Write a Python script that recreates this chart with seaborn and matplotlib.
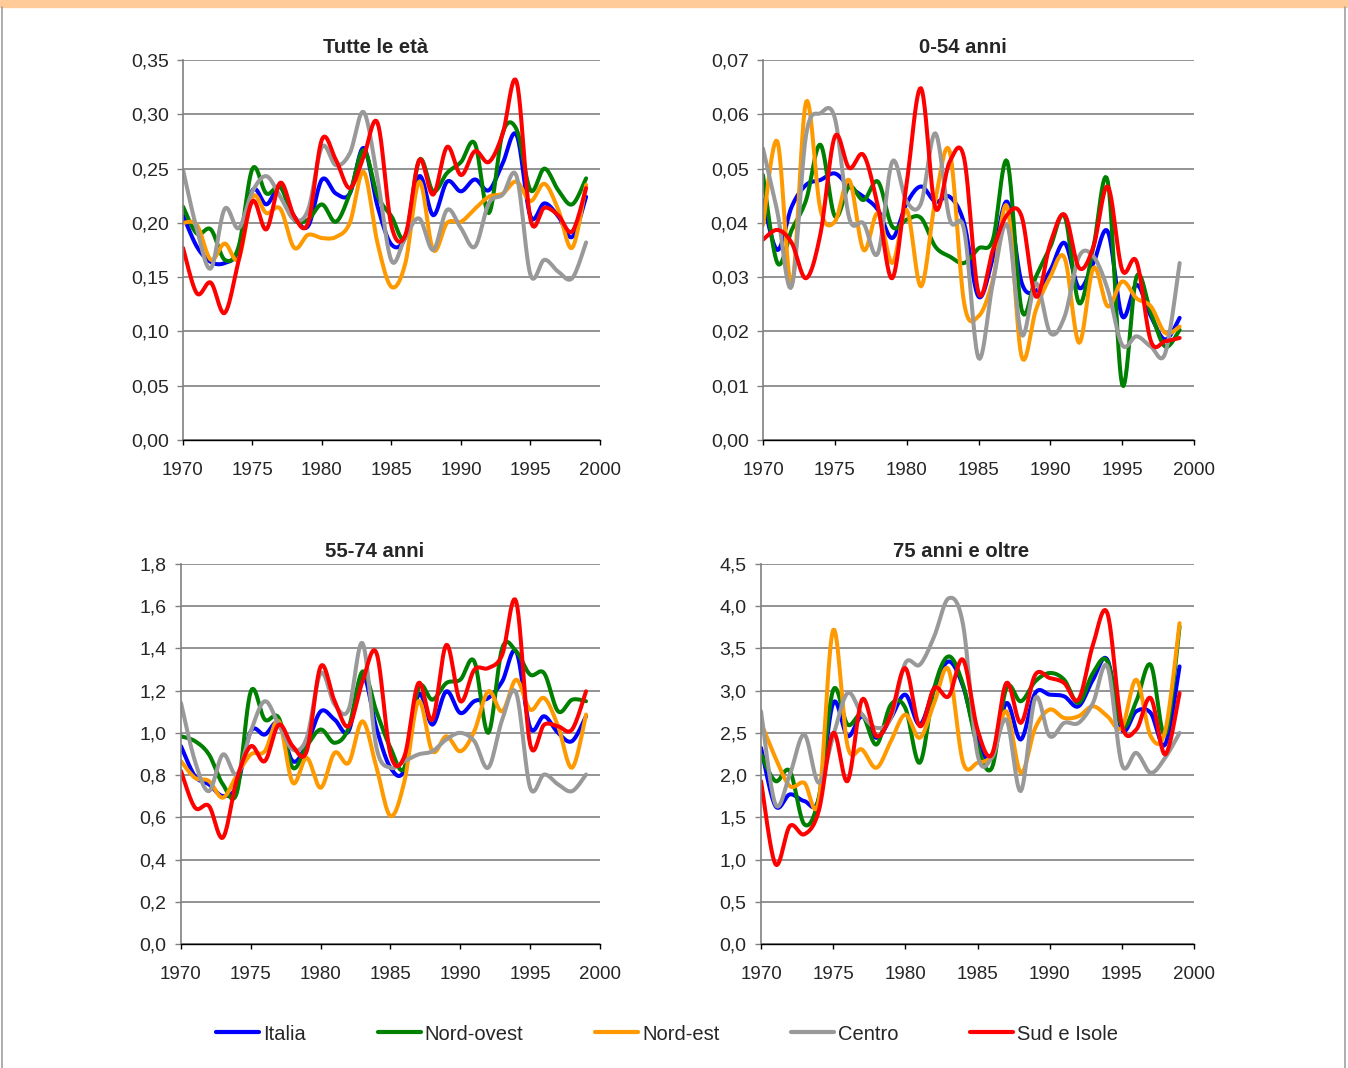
import numpy as np
import pandas as pd
import matplotlib
matplotlib.use('Agg')
import matplotlib.pyplot as plt
from matplotlib.ticker import FuncFormatter, MultipleLocator
from matplotlib.lines import Line2D
import seaborn as sns

years = list(range(1970, 2000))
regions = ['Italia', 'Nord-ovest', 'Nord-est', 'Centro', 'Sud e Isole']
colors = ['#0000FF', '#008000', '#FF9900', '#999999', '#FF0000']

# Tutte le età
tutte_italia = [0.207, 0.178, 0.164, 0.163, 0.175, 0.230, 0.217, 0.233, 0.206, 0.197,
                0.240, 0.227, 0.227, 0.269, 0.215, 0.180, 0.187, 0.243, 0.207, 0.238,
                0.229, 0.240, 0.230, 0.255, 0.281, 0.206, 0.218, 0.206, 0.187, 0.224]
tutte_nordovest = [0.215, 0.190, 0.194, 0.166, 0.178, 0.250, 0.227, 0.233, 0.203, 0.203,
                   0.217, 0.201, 0.227, 0.267, 0.225, 0.206, 0.187, 0.258, 0.229, 0.246,
                   0.256, 0.273, 0.209, 0.283, 0.286, 0.230, 0.250, 0.230, 0.217, 0.241]
tutte_nordest = [0.200, 0.198, 0.166, 0.181, 0.167, 0.224, 0.209, 0.213, 0.177, 0.189,
                 0.186, 0.187, 0.200, 0.247, 0.181, 0.141, 0.163, 0.238, 0.175, 0.200,
                 0.201, 0.213, 0.224, 0.227, 0.238, 0.220, 0.236, 0.212, 0.177, 0.235]
tutte_centro = [0.249, 0.194, 0.158, 0.213, 0.195, 0.229, 0.243, 0.224, 0.203, 0.212,
                0.270, 0.253, 0.264, 0.302, 0.240, 0.165, 0.187, 0.204, 0.175, 0.212,
                0.195, 0.178, 0.218, 0.226, 0.243, 0.152, 0.166, 0.155, 0.149, 0.182]
tutte_sud = [0.177, 0.135, 0.145, 0.117, 0.165, 0.220, 0.194, 0.237, 0.206, 0.200,
             0.277, 0.258, 0.232, 0.261, 0.292, 0.197, 0.189, 0.258, 0.226, 0.270,
             0.244, 0.266, 0.256, 0.282, 0.330, 0.203, 0.214, 0.207, 0.192, 0.232]

# 0-54 anni
g054_italia = [0.0442, 0.0350, 0.0430, 0.0470, 0.0479, 0.0491, 0.0467, 0.0448, 0.0424, 0.0372,
               0.0436, 0.0467, 0.0439, 0.0448, 0.0399, 0.0264, 0.0335, 0.0439, 0.0290, 0.0275,
               0.0313, 0.0363, 0.0280, 0.0326, 0.0384, 0.0228, 0.0286, 0.0228, 0.0185, 0.0225]
g054_nordovest = [0.0488, 0.0326, 0.0387, 0.0442, 0.0544, 0.0412, 0.0467, 0.0442, 0.0476, 0.0393,
                  0.0406, 0.0409, 0.0356, 0.0338, 0.0326, 0.0353, 0.0369, 0.0513, 0.0240, 0.0301,
                  0.0356, 0.0412, 0.0252, 0.0356, 0.0476, 0.0102, 0.0301, 0.0234, 0.0172, 0.0203]
g054_nordest = [0.0396, 0.0550, 0.0286, 0.0623, 0.0424, 0.0402, 0.0479, 0.0350, 0.0418, 0.0326,
                0.0424, 0.0283, 0.0442, 0.0531, 0.0252, 0.0228, 0.0295, 0.0430, 0.0154, 0.0240,
                0.0301, 0.0335, 0.0179, 0.0317, 0.0246, 0.0292, 0.0261, 0.0246, 0.0197, 0.0209]
g054_centro = [0.0537, 0.0420, 0.0283, 0.0562, 0.0602, 0.0593, 0.0409, 0.0399, 0.0344, 0.0513,
               0.0439, 0.0436, 0.0565, 0.0406, 0.0387, 0.0151, 0.0289, 0.0396, 0.0194, 0.0289,
               0.0197, 0.0228, 0.0338, 0.0338, 0.0277, 0.0175, 0.0191, 0.0172, 0.0160, 0.0326]
g054_sud = [0.0369, 0.0387, 0.0363, 0.0298, 0.0380, 0.0559, 0.0501, 0.0525, 0.0430, 0.0298,
            0.0473, 0.0648, 0.0427, 0.0513, 0.0519, 0.0271, 0.0350, 0.0415, 0.0412, 0.0264,
            0.0363, 0.0415, 0.0317, 0.0356, 0.0467, 0.0313, 0.0329, 0.0182, 0.0182, 0.0188]

# 55-74 anni
g5574_italia = [0.937, 0.795, 0.756, 0.701, 0.750, 1.008, 0.992, 1.047, 0.866, 0.945,
                1.102, 1.063, 1.008, 1.276, 1.020, 0.835, 0.827, 1.181, 1.039, 1.197,
                1.094, 1.150, 1.165, 1.244, 1.386, 1.024, 1.079, 1.000, 0.961, 1.079]
g5574_nordovest = [0.984, 0.961, 0.898, 0.756, 0.717, 1.197, 1.063, 1.071, 0.835, 0.937,
                   1.016, 0.953, 1.024, 1.291, 1.100, 0.929, 0.835, 1.213, 1.157, 1.236,
                   1.252, 1.339, 1.000, 1.402, 1.386, 1.276, 1.283, 1.102, 1.157, 1.150]
g5574_nordest = [0.866, 0.787, 0.772, 0.693, 0.800, 0.898, 0.913, 1.055, 0.764, 0.882,
                 0.740, 0.906, 0.858, 1.055, 0.835, 0.606, 0.772, 1.150, 0.913, 0.984,
                 0.913, 1.008, 1.197, 1.102, 1.252, 1.110, 1.165, 1.031, 0.835, 1.087]
g5574_centro = [1.142, 0.866, 0.724, 0.898, 0.803, 1.008, 1.150, 1.039, 0.921, 0.976,
                1.283, 1.134, 1.110, 1.425, 0.929, 0.835, 0.866, 0.898, 0.913, 0.969,
                1.000, 0.961, 0.835, 1.063, 1.189, 0.740, 0.803, 0.756, 0.724, 0.803]
g5574_sud = [0.819, 0.646, 0.654, 0.504, 0.780, 0.937, 0.866, 1.039, 0.937, 0.913,
             1.315, 1.150, 1.031, 1.244, 1.378, 0.898, 0.890, 1.236, 1.063, 1.417,
             1.150, 1.299, 1.307, 1.370, 1.622, 0.945, 1.039, 1.031, 1.016, 1.197]

# 75 anni e oltre
g75_italia = [2.323, 1.634, 1.772, 1.693, 1.713, 2.854, 2.461, 2.697, 2.441, 2.677,
              2.953, 2.598, 3.031, 3.346, 3.051, 2.402, 2.205, 2.854, 2.421, 2.972,
              2.953, 2.933, 2.815, 3.130, 3.366, 2.539, 2.756, 2.736, 2.362, 3.287]
g75_nordovest = [2.244, 1.929, 2.047, 1.417, 1.732, 3.008, 2.598, 2.717, 2.362, 2.835,
                 2.795, 2.146, 3.031, 3.406, 3.071, 2.342, 2.087, 3.031, 2.874, 3.110,
                 3.209, 3.130, 2.854, 3.209, 3.346, 2.579, 2.874, 3.307, 2.480, 3.760]
g75_nordest = [2.618, 2.205, 1.870, 1.909, 1.693, 3.720, 2.342, 2.303, 2.087, 2.402,
               2.717, 2.441, 2.854, 3.248, 2.150, 2.146, 2.244, 2.756, 2.028, 2.559,
               2.776, 2.677, 2.697, 2.815, 2.697, 2.559, 3.130, 2.461, 2.520, 3.799]
g75_centro = [2.756, 1.654, 2.008, 2.480, 1.909, 2.461, 2.972, 2.717, 2.559, 2.677,
              3.327, 3.307, 3.642, 4.094, 3.780, 2.244, 2.205, 2.657, 1.811, 2.913,
              2.461, 2.618, 2.618, 2.854, 3.287, 2.126, 2.264, 2.028, 2.205, 2.500]
g75_sud = [1.929, 0.945, 1.398, 1.299, 1.575, 2.500, 1.929, 2.894, 2.461, 2.717,
           3.268, 2.579, 3.031, 2.933, 3.366, 2.539, 2.244, 3.091, 2.618, 3.189,
           3.150, 3.091, 2.894, 3.543, 3.917, 2.598, 2.539, 2.913, 2.244, 2.972]

titles = ['Tutte le età', '0-54 anni', '55-74 anni', '75 anni e oltre']
panel_series = [
    [tutte_italia, tutte_nordovest, tutte_nordest, tutte_centro, tutte_sud],
    [g054_italia, g054_nordovest, g054_nordest, g054_centro, g054_sud],
    [g5574_italia, g5574_nordovest, g5574_nordest, g5574_centro, g5574_sud],
    [g75_italia, g75_nordovest, g75_nordest, g75_centro, g75_sud],
]
y_max = [0.35, 0.07, 1.8, 4.5]
y_step = [0.05, 0.01, 0.2, 0.5]
y_dec = [2, 2, 1, 1]

# axes rectangles in pixels: left, top, right, bottom
W, H = 1348, 1068
boxes = [(183, 60, 600, 440), (763, 60, 1194, 440),
         (181, 564, 600, 944), (761, 564, 1194, 944)]


def smooth(x, y, n=12):
    # Excel-like smoothed line (Catmull-Rom through every data point)
    x = np.asarray(x, float)
    y = np.asarray(y, float)
    px = np.concatenate([[x[0]], x, [x[-1]]])
    py = np.concatenate([[y[0]], y, [y[-1]]])
    t = np.linspace(0, 1, n, endpoint=False)
    xs, ys = [], []
    for i in range(1, len(px) - 2):
        for p, out in ((px, xs), (py, ys)):
            p0, p1, p2, p3 = p[i - 1], p[i], p[i + 1], p[i + 2]
            out.append(0.5 * (2 * p1 + (-p0 + p2) * t
                              + (2 * p0 - 5 * p1 + 4 * p2 - p3) * t ** 2
                              + (-p0 + 3 * p1 - 3 * p2 + p3) * t ** 3))
    xs.append([x[-1]])
    ys.append([y[-1]])
    return np.concatenate(xs), np.concatenate(ys)


sns.set_style('white')
plt.rcParams['font.family'] = ['Liberation Sans', 'DejaVu Sans']

fig = plt.figure(figsize=(W / 100, H / 100), dpi=100)

# page decoration: orange band on top and thin grey frame
fig.patches.append(plt.Rectangle((0, 1 - 7 / H), 1, 7 / H, transform=fig.transFigure,
                                 color='#FFCC99', zorder=0))
fig.add_artist(Line2D([2 / W, 2 / W], [0, 1 - 7 / H], transform=fig.transFigure,
                      color='#A0A0A0', lw=1.2))
fig.add_artist(Line2D([1 - 3 / W, 1 - 3 / W], [0, 1 - 7 / H], transform=fig.transFigure,
                      color='#A0A0A0', lw=1.2))

for k in range(4):
    l, t, r, b = boxes[k]
    ax = fig.add_axes([l / W, 1 - b / H, (r - l) / W, (b - t) / H])

    rows = []
    for name, vals in zip(regions, panel_series[k]):
        sx, sy = smooth(years, vals)
        rows.append(pd.DataFrame({'anno': sx, 'valore': sy, 'area': name}))
    df = pd.concat(rows, ignore_index=True)

    sns.lineplot(data=df, x='anno', y='valore', hue='area', hue_order=regions,
                 palette=colors, linewidth=2.9, sort=False, estimator=None,
                 legend=False, ax=ax)

    ax.set_xlim(1970, 2000)
    ax.set_ylim(0, y_max[k])
    ax.xaxis.set_major_locator(MultipleLocator(5))
    ax.yaxis.set_major_locator(MultipleLocator(y_step[k]))
    dec = y_dec[k]
    ax.yaxis.set_major_formatter(FuncFormatter(
        lambda v, p, d=dec: f'{v:.{d}f}'.replace('.', ',')))
    ax.yaxis.grid(True, color='#808080', lw=1.2)
    ax.set_axisbelow(True)
    for s in ('top', 'right'):
        ax.spines[s].set_visible(False)
    ax.spines['left'].set_color('#808080')
    ax.spines['left'].set_linewidth(1.2)
    ax.spines['bottom'].set_color('black')
    ax.spines['bottom'].set_linewidth(1.0)
    ax.tick_params(axis='x', direction='out', length=3.6, width=1, color='black',
                   labelsize=13.5, pad=12.5, bottom=True)
    ax.tick_params(axis='y', direction='out', length=4.3, width=1, color='#808080',
                   labelsize=14, pad=6, left=True)
    ax.set_xlabel('')
    ax.set_ylabel('')
    off = 16 / (r - l)
    ax.set_title(titles[k], fontsize=14.6, fontweight='bold', pad=5, x=0.5 - off)

handles = [Line2D([], [], color=c, lw=3.0) for c in colors]
fig.legend(handles, regions, loc='center', bbox_to_anchor=(0.495, 1 - 1034 / H),
           ncol=5, frameon=False, fontsize=14.5, handlelength=2.14,
           handletextpad=0.2, columnspacing=3.55)

fig.savefig('out.png', dpi=100)
